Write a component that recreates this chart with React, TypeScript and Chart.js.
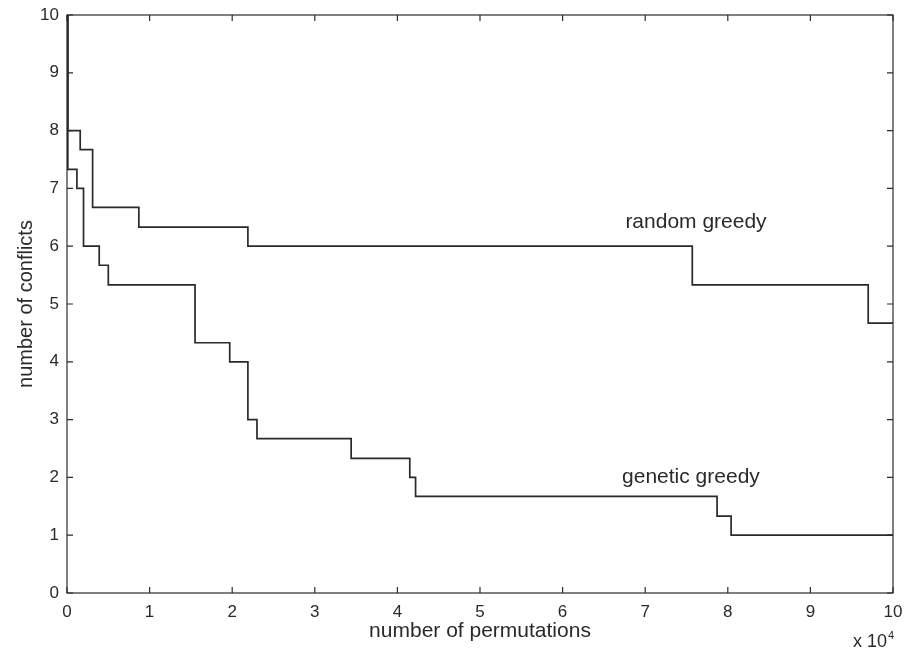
import React, { useEffect, useRef } from "react";
import { Chart, registerables } from "chart.js";

Chart.register(...registerables);

// x in units of 10^4 permutations
const randomX = [0, 0.01, 0.16, 0.31, 0.87, 2.19, 7.57, 9.7, 10];
const randomY = [10, 8, 7.67, 6.67, 6.33, 6, 5.33, 4.67, 4.67];
const geneticX = [0, 0.01, 0.12, 0.2, 0.39, 0.5, 1.55, 1.97, 2.19, 2.3, 3.44, 4.15, 4.22, 7.87, 8.04, 10];
const geneticY = [10, 7.33, 7, 6, 5.67, 5.33, 4.33, 4, 3, 2.67, 2.33, 2, 1.67, 1.33, 1, 1];
const tickValues = [0, 1, 2, 3, 4, 5, 6, 7, 8, 9, 10];
const seriesLabels = ["random greedy", "genetic greedy"];
const labelX = [6.76, 6.72];
const labelY = [6.42, 2.0];
const xTitle = "number of permutations";
const yTitle = "number of conflicts";

const FONT = "'Liberation Sans', Arial, sans-serif";
const INK = "#2a2a2a";

export default function App() {
  const ref = useRef<HTMLCanvasElement | null>(null);
  useEffect(() => {
    document.body.style.margin = "0";
    const canvas = ref.current!;
    const toPts = (xs: number[], ys: number[]) => xs.map((x, i) => ({ x, y: ys[i] }));

    const framePlugin = {
      id: "frame",
      afterDraw(chart: any) {
        const { ctx, chartArea: a, scales } = chart;
        const xs = scales.x, ys = scales.y;
        ctx.save();
        ctx.strokeStyle = INK;
        ctx.lineWidth = 1.2;
        ctx.strokeRect(a.left, a.top, a.right - a.left, a.bottom - a.top);
        const tl = 6;
        ctx.beginPath();
        tickValues.forEach((v) => {
          const px = xs.getPixelForValue(v);
          ctx.moveTo(px, a.bottom); ctx.lineTo(px, a.bottom - tl);
          ctx.moveTo(px, a.top); ctx.lineTo(px, a.top + tl);
          const py = ys.getPixelForValue(v);
          ctx.moveTo(a.left, py); ctx.lineTo(a.left + tl, py);
          ctx.moveTo(a.right, py); ctx.lineTo(a.right - tl, py);
        });
        ctx.stroke();
        ctx.fillStyle = INK;
        // series labels
        ctx.font = `21px ${FONT}`;
        ctx.textAlign = "left";
        ctx.textBaseline = "middle";
        seriesLabels.forEach((s, i) => {
          ctx.fillText(s, xs.getPixelForValue(labelX[i]), ys.getPixelForValue(labelY[i]));
        });
        // axis titles
        ctx.textBaseline = "alphabetic";
        ctx.textAlign = "center";
        ctx.font = `21px ${FONT}`;
        ctx.fillText(xTitle, (a.left + a.right) / 2, 637);
        ctx.save();
        ctx.translate(32, (a.top + a.bottom) / 2);
        ctx.rotate(-Math.PI / 2);
        ctx.font = `20px ${FONT}`;
        ctx.fillText(yTitle, 0, 0);
        ctx.restore();
        // x 10^4
        ctx.textAlign = "right";
        ctx.font = `18px ${FONT}`;
        ctx.fillText("x 10", 887, 647);
        ctx.textAlign = "left";
        ctx.font = `11px ${FONT}`;
        ctx.fillText("4", 888, 639);
        ctx.restore();
      },
    };

    const zeroPad = (s: any) => {
      s.paddingLeft = 0; s.paddingRight = 0; s.paddingTop = 0; s.paddingBottom = 0;
    };

    const chart = new Chart(canvas, {
      type: "scatter",
      data: {
        datasets: [
          {
            label: seriesLabels[0],
            data: toPts(randomX, randomY),
            showLine: true,
            stepped: "before",
            borderColor: INK,
            borderWidth: 1.7,
            pointRadius: 0,
            fill: false,
          },
          {
            label: seriesLabels[1],
            data: toPts(geneticX, geneticY),
            showLine: true,
            stepped: "before",
            borderColor: INK,
            borderWidth: 1.7,
            pointRadius: 0,
            fill: false,
          },
        ],
      },
      options: {
        animation: false,
        responsive: false,
        maintainAspectRatio: false,
        layout: { padding: { top: 15, right: 15, left: 0, bottom: 0 } },
        plugins: { legend: { display: false }, tooltip: { enabled: false } },
        scales: {
          x: {
            type: "linear",
            min: 0,
            max: 10,
            afterBuildTicks: (s: any) => { s.ticks = tickValues.map((v) => ({ value: v })); },
            afterFit: (s: any) => { s.height = 57; zeroPad(s); },
            grid: { display: false, drawTicks: false },
            border: { display: false },
            ticks: { color: INK, font: { family: FONT, size: 17 }, padding: 9, maxRotation: 0, autoSkip: false },
            title: { display: false },
          },
          y: {
            type: "linear",
            min: 0,
            max: 10,
            afterBuildTicks: (s: any) => { s.ticks = tickValues.map((v) => ({ value: v })); },
            afterFit: (s: any) => { s.width = 67; zeroPad(s); },
            grid: { display: false, drawTicks: false },
            border: { display: false },
            ticks: { color: INK, font: { family: FONT, size: 17 }, padding: 8, autoSkip: false },
            title: { display: false },
          },
        },
      },
      plugins: [framePlugin],
    } as any);
    return () => chart.destroy();
  }, []);
  return <canvas ref={ref} width={908} height={650} style={{ display: "block", width: 908, height: 650 }} />;
}
